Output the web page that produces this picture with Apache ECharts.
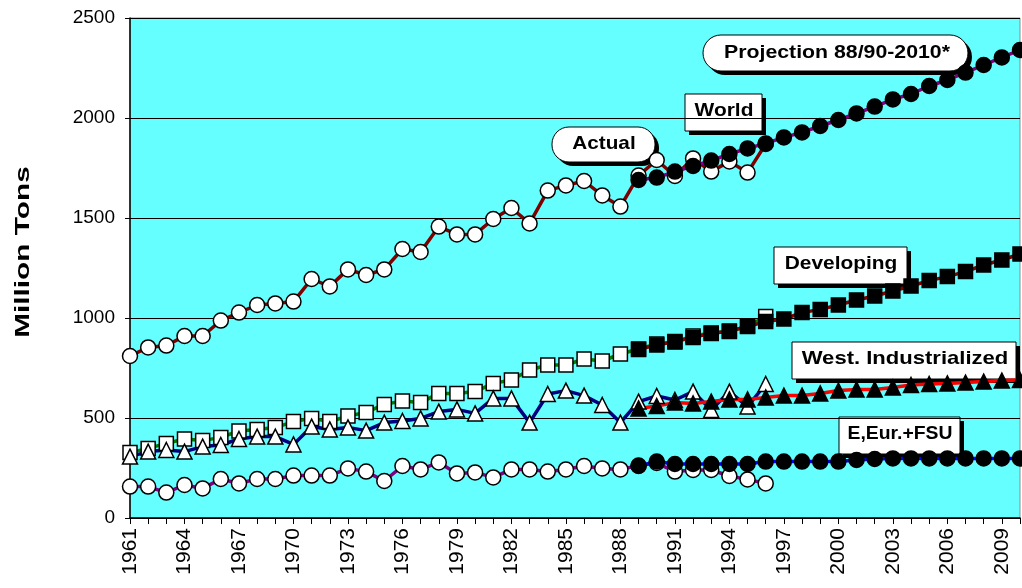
<!DOCTYPE html>
<html>
<head>
<meta charset="utf-8">
<script src="https://cdn.jsdelivr.net/npm/echarts@6/dist/echarts.min.js"></script>
<style>
html,body{margin:0;padding:0;background:#fff;}
#chart{width:1022px;height:588px;}
</style>
</head>
<body>
<div id="chart"></div>
<script>
// ---- data ----
const years = ['1961','1962','1963','1964','1965','1966','1967','1968','1969','1970',
  '1971','1972','1973','1974','1975','1976','1977','1978','1979','1980',
  '1981','1982','1983','1984','1985','1986','1987','1988','1989','1990',
  '1991','1992','1993','1994','1995','1996','1997','1998','1999','2000',
  '2001','2002','2003','2004','2005','2006','2007','2008','2009','2010'];

// actual values 1961-1996
const worldActual = [810,853,862,910,910,987,1027,1065,1073,1082,
  1195,1158,1243,1215,1243,1345,1330,1457,1418,1418,
  1495,1550,1473,1637,1663,1685,1613,1557,1712,1790,
  1710,1798,1732,1783,1727,1870];
const developingActual = [327,348,373,395,387,403,435,443,452,482,
  498,482,510,528,568,585,577,623,623,632,
  673,690,740,765,765,795,785,820,845,870,
  880,910,925,932,960,1007];
const westActual = [307,332,340,332,357,365,395,407,407,368,
  457,443,453,437,477,485,498,532,543,523,
  598,598,477,620,637,612,565,477,582,610,
  590,632,540,632,557,670];
const eeurActual = [157,157,127,165,148,195,173,195,195,212,
  212,212,248,232,185,260,243,278,223,228,
  203,243,243,232,243,260,248,243,262,275,
  232,240,240,210,193,173];

// projection values 1989-2010
const worldProj = [1690,1702,1732,1760,1787,1820,1848,1873,1903,1928,
  1960,1990,2023,2057,2093,2120,2160,2190,2227,2265,2303,2340];
const developingProj = [843,865,882,903,923,935,957,982,995,1027,
  1043,1065,1090,1110,1135,1160,1187,1207,1232,1265,1290,1320];
const westProj = [548,560,577,573,582,593,593,603,612,612,
  623,637,643,643,653,665,670,673,677,682,687,690];
const eeurProj = [260,282,270,270,270,270,270,282,282,282,
  282,282,290,295,298,298,298,298,298,298,298,298];

const yTicks = [0,500,1000,1500,2000,2500];
const projStartYear = '1989';

// ---- build ----
const nYears = years.length;
function padActual(arr){ const a = arr.slice(); while(a.length < nYears) a.push(null); return a; }
function padProj(arr){ const off = years.indexOf(projStartYear); const a = []; for(let i=0;i<off;i++) a.push(null); return a.concat(arr); }

function series(name, data, lineColor, symbol, filled, size){
  return {
    name, type:'line', data, symbol, symbolSize:size,
    showSymbol:true, showAllSymbol:true, connectNulls:false,
    lineStyle:{color:lineColor, width:3.5},
    itemStyle:{color: filled ? '#000' : '#fff', borderColor:'#000', borderWidth:1.5},
    emphasis:{disabled:true}, animation:false
  };
}

const chart = echarts.init(document.getElementById('chart'), null, {renderer:'canvas'});

function box(x,y,w,h,r,text,cx,cy,sx){
  return {
    type:'group', silent:true, z:100,
    children:[
      {type:'rect', shape:{x:x+4,y:y+4,width:w,height:h,r:r}, style:{fill:'#000'}},
      {type:'rect', shape:{x:x,y:y,width:w,height:h,r:r}, style:{fill:'#fff',stroke:'#000',lineWidth:1}},
      {type:'text', x:cx, y:cy, scaleX:sx, style:{text:text, font:'bold 19px "Liberation Sans", Arial, sans-serif', fill:'#000', align:'center', verticalAlign:'middle'}}
    ]
  };
}

const option = {
  backgroundColor:'#fff',
  animation:false,
  grid:{left:130, right:2, top:18, bottom:70, show:true, backgroundColor:'#66FFFF', borderColor:'#8c8c8c', borderWidth:1},
  xAxis:{
    type:'category', data:years, boundaryGap:false,
    axisLine:{lineStyle:{color:'#000', width:1.5}},
    axisTick:{show:true, interval:0, length:6, lineStyle:{color:'#000'}},
    axisLabel:{interval:2, rotate:90, margin:10, fontSize:21, color:'#000', fontFamily:'"Liberation Sans", Arial, sans-serif'},
    splitLine:{show:false}
  },
  yAxis:{
    type:'value', min:yTicks[0], max:yTicks[yTicks.length-1], interval:yTicks[1]-yTicks[0],
    axisLine:{show:true, lineStyle:{color:'#000', width:1.5}},
    axisTick:{show:true, length:5, lineStyle:{color:'#000'}},
    axisLabel:{margin:15, fontSize:19, color:'#000', fontFamily:'"Liberation Sans", Arial, sans-serif', formatter:function(v){return String(v);}},
    splitLine:{show:true, lineStyle:{color:'#000', width:1}}
  },
  series:[
    series('World actual', padActual(worldActual), '#800000', 'circle', false, 15),
    series('Developing actual', padActual(developingActual), '#008000', 'rect', false, 14),
    series('West actual', padActual(westActual), '#000080', 'triangle', false, 15),
    series('EEur actual', padActual(eeurActual), '#800080', 'circle', false, 15),
    series('World projection', padProj(worldProj), '#800080', 'circle', true, 15),
    series('Developing projection', padProj(developingProj), '#800000', 'rect', true, 14),
    series('West projection', padProj(westProj), '#FF0000', 'triangle', true, 15),
    series('EEur projection', padProj(eeurProj), '#0000FF', 'circle', true, 15)
  ],
  graphic:[
    {type:'text', silent:true, x:23, y:252, rotation:Math.PI/2, scaleX:1.42,
      style:{text:'Million Tons', font:'bold 21px "Liberation Sans", Arial, sans-serif', fill:'#000', align:'center', verticalAlign:'middle'}},
    box(552,127,103,35,17,'Actual',604,144,1.09),
    box(703,35,265,36,18,'Projection 88/90-2010*',837,53,1.12),
    box(685,94,77,37,0,'World',724,111,1.1),
    box(774,247,133,37,0,'Developing',841,264,1.1),
    box(792,342,224,37,0,'West. Industrialized',905,359,1.16),
    box(839,417,121,37,0,'E,Eur.+FSU',900,434,1.02)
  ]
};
chart.setOption(option);
</script>
</body>
</html>
